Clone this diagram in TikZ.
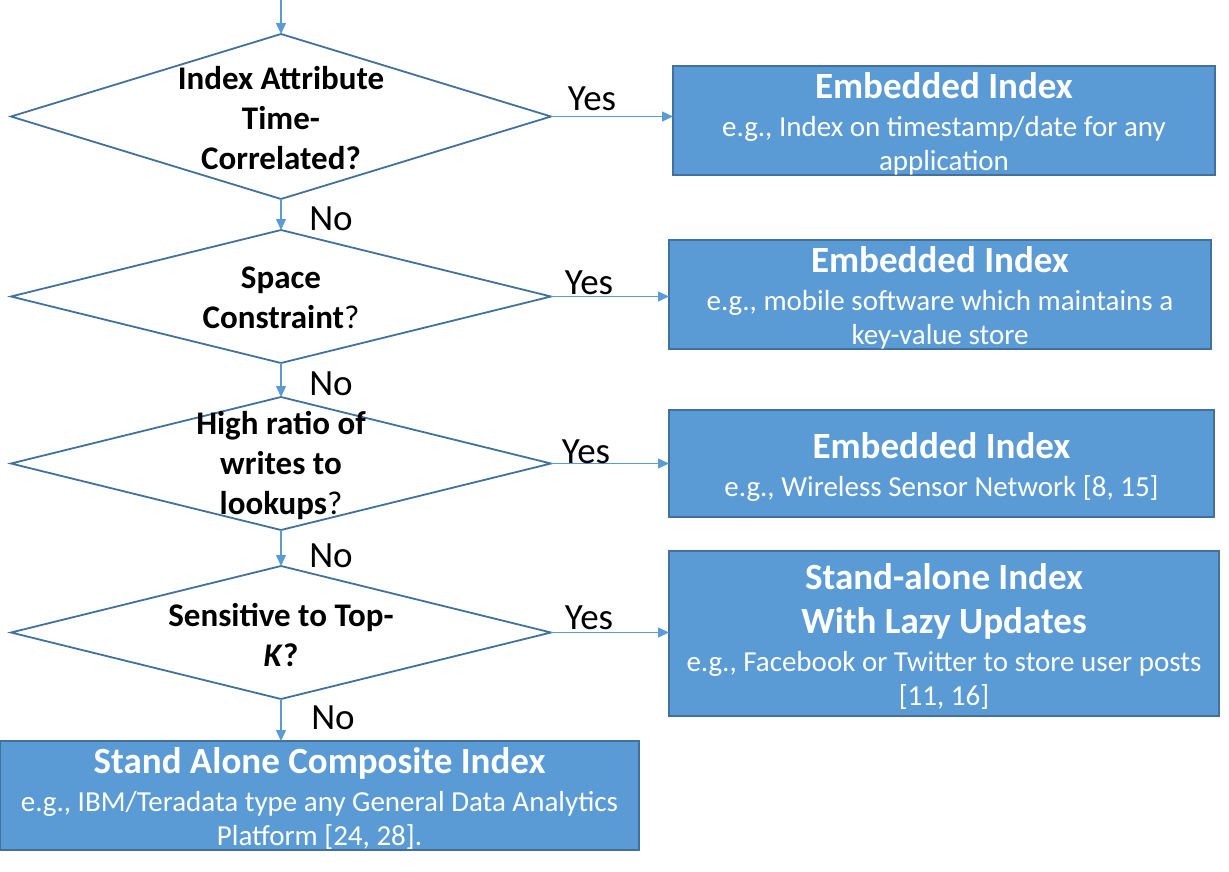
\documentclass[tikz,border=0pt]{standalone}
\usepackage{fontspec}
\setmainfont{Carlito}
\usetikzlibrary{shapes.geometric,arrows.meta}
\definecolor{boxfill}{HTML}{5B9BD5}
\definecolor{boxline}{HTML}{41719C}
\definecolor{arrcol}{HTML}{5B9BD5}
\newcommand{\ttlf}{\fontsize{37}{34}\selectfont\bfseries\rule{0pt}{32pt}}
\newcommand{\bdyf}{\fontsize{29}{34}\selectfont\mdseries}
\newcommand{\qf}{\fontsize{33}{40}\selectfont\bfseries}
\begin{document}
\begin{tikzpicture}[x=1pt,y=-1pt,
  dia/.style={diamond, draw=boxline, line width=1.8pt, inner sep=0pt, outer sep=0pt, minimum width=540pt},
  qtext/.style={align=center, font=\qf, inner sep=0pt, text=black},
  box/.style={rectangle, draw=boxline, fill=boxfill, line width=2pt, text=white, align=center, inner sep=0pt, outer sep=0pt, font=\bdyf},
  arr/.style={draw=arrcol, line width=1.3pt, -{Triangle[length=11pt,width=10pt]}},
  lbl/.style={font=\fontsize{37}{40}\selectfont, inner sep=0pt, text=black}
]
\useasboundingbox (0,0) rectangle (1229,871);

% decisions
\node[dia, minimum height=165pt] (d1) at (281,116.5) {};
\node[dia, minimum height=133pt] (d2) at (281,296.5) {};
\node[dia, minimum height=133pt] (d3) at (281,463.5) {};
\node[dia, minimum height=133pt] (d4) at (281,632.5) {};

\node[qtext] (q1) at (281,118) {Index Attribute\\Time-\\Correlated?};
\node[qtext] (q2) at (281,298) {Space\\Constraint{\mdseries ?}};
\node[qtext] (q3) at (281,465) {High ratio of\\writes to\\lookups{\mdseries ?}};
\node[qtext] (q4) at (281,635) {Sensitive to Top-\\\textit{K}?};

% outcome boxes
\node[box, minimum width=542pt, minimum height=107pt] (b1) at (944,120.5)
  {\ttlf Embedded Index\\[4pt] e.g., Index on timestamp/date for any\\ application};
\node[box, minimum width=542pt, minimum height=107pt] (b2) at (940,294.5)
  {\ttlf Embedded Index\\[4pt] e.g., mobile software which maintains a\\ key-value store};
\node[box, minimum width=545pt, minimum height=107pt] (b3) at (941.5,463.5)
  {\ttlf Embedded Index\\[4pt] e.g., Wireless Sensor Network [8, 15]};
\node[box, minimum width=550pt, minimum height=165pt] (b4) at (944,633.5)
  {\ttlf Stand-alone Index\\[10pt] \ttlf With Lazy Updates\\[4pt] e.g., Facebook or Twitter to store user posts\\ {}[11, 16]};
\node[box, minimum width=639pt, minimum height=109pt] (b5) at (319.5,795.5)
  {\ttlf Stand Alone Composite Index\\[4pt] e.g., IBM/Teradata type any General Data Analytics\\ Platform [24, 28].};

% connectors
\coordinate (start) at (281,0);
\draw[arr] (start) -- (d1.north);
\draw[arr] (d1.south) -- (d2.north);
\draw[arr] (d2.south) -- (d3.north);
\draw[arr] (d3.south) -- (d4.north);
\draw[arr] (d4.south) -- (d4.south |- b5.north);
\draw[arr] (d1.east) -- (d1.east -| b1.west);
\draw[arr] (d2.east) -- (d2.east -| b2.west);
\draw[arr] (d3.east) -- (d3.east -| b3.west);
\draw[arr] (d4.east) -- (d4.east -| b4.west);

% labels
\node[lbl] (y1) at (592,99) {Yes};
\node[lbl] (y2) at (589,283) {Yes};
\node[lbl] (y3) at (586,452) {Yes};
\node[lbl] (y4) at (589,618) {Yes};
\node[lbl] (n1) at (331,219) {No};
\node[lbl] (n2) at (331,384) {No};
\node[lbl] (n3) at (331,556) {No};
\node[lbl] (n4) at (333,718) {No};
\end{tikzpicture}
\end{document}
